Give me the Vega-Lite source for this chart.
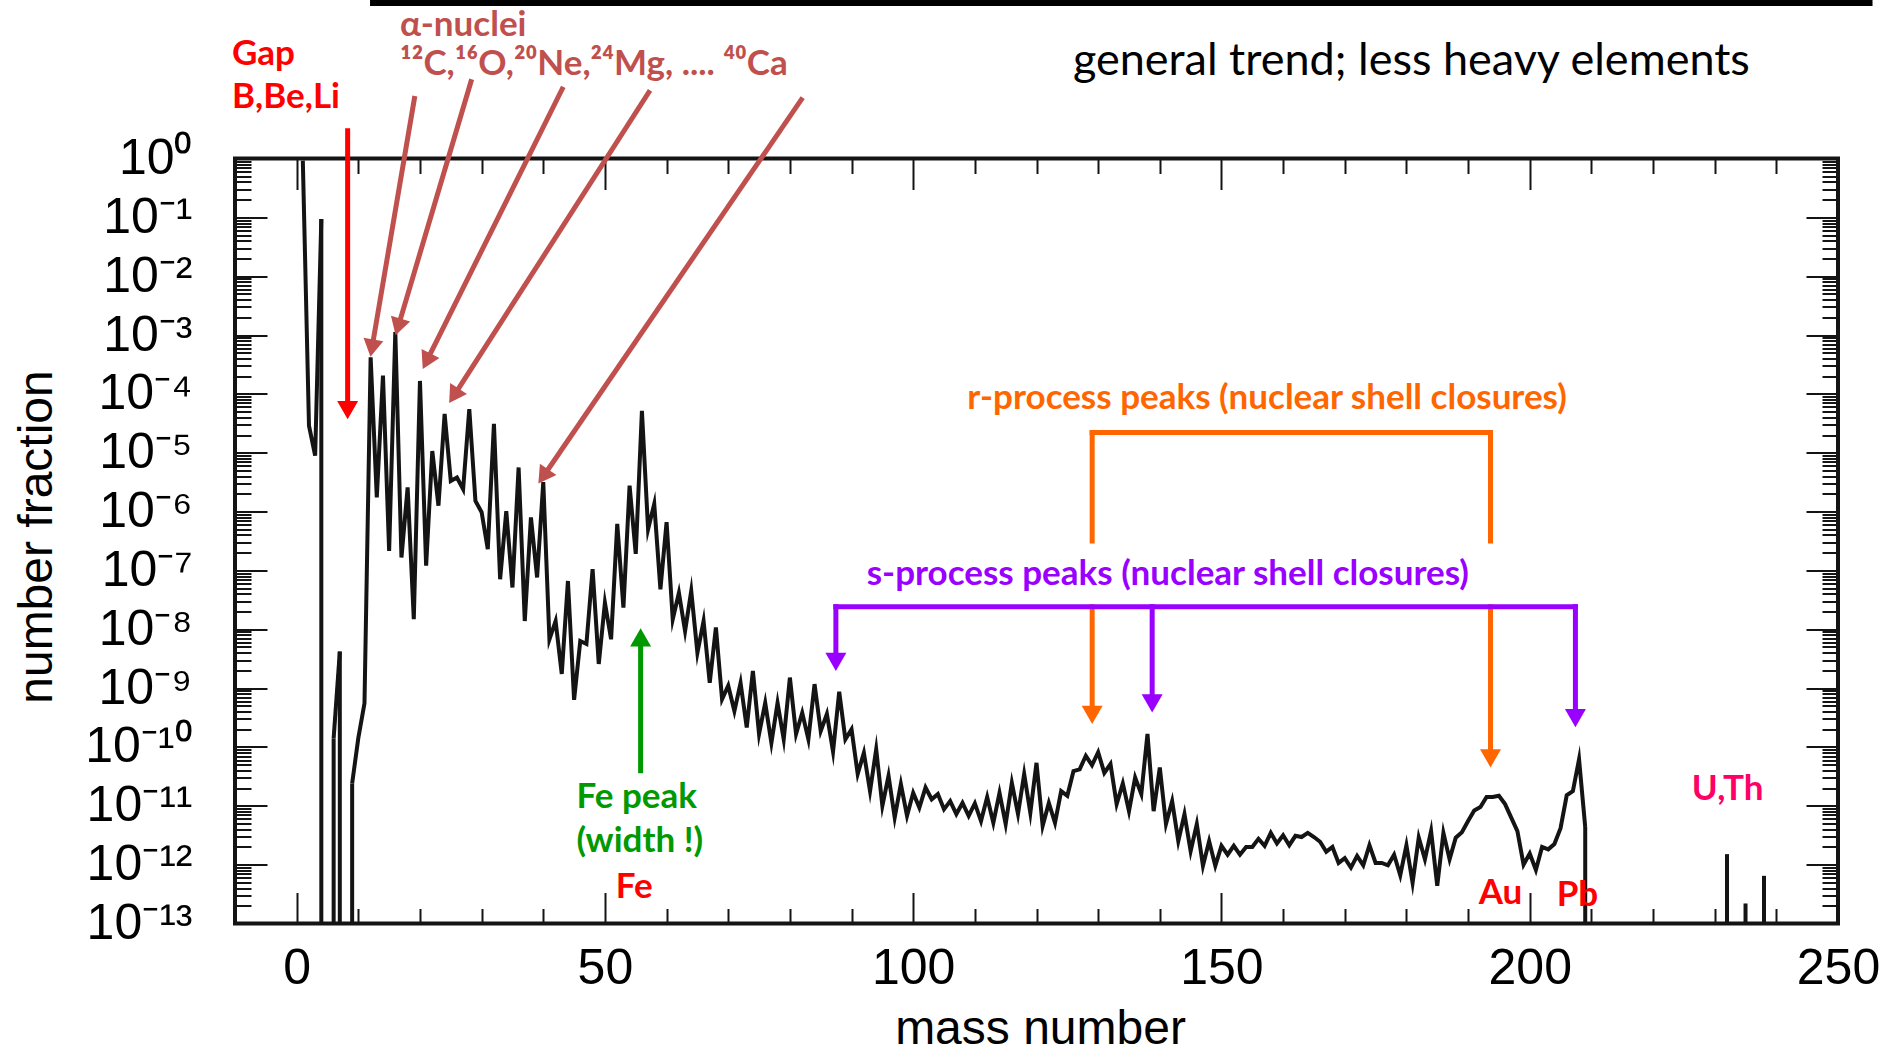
{
"$schema": "https://vega.github.io/schema/vega-lite/v6.json",
"width": 1603, "height": 765,
"autosize": {"type": "none"},
"padding": {"left": 235, "top": 158.5, "right": 46, "bottom": 128.5},
"background": "white",
"config": {"view": {"stroke": "#141414", "strokeWidth": 4}, "axis": {"grid": false, "domain": false, "tickColor": "#141414", "tickWidth": 2, "labelColor": "#000000", "titleColor": "#000000"}},
"datasets": {
"abund": [
{"A":1,"v":0.92,"seg":1},{"A":2,"v":2.88e-5,"seg":1},{"A":3,"v":8.9e-6,"seg":1},{"A":4,"v":0.0933,"seg":1},
{"A":6,"v":1.41e-10,"seg":2},{"A":7,"v":4.17e-9,"seg":2},
{"A":9,"v":2.40e-11,"seg":3},{"A":10,"v":1.41e-10,"seg":3},{"A":11,"v":5.50e-10,"seg":3},{"A":12,"v":4.17e-4,"seg":3},{"A":13,"v":1.74e-6,"seg":3},{"A":14,"v":2.04e-4,"seg":3},{"A":15,"v":2.14e-7,"seg":3},{"A":16,"v":1.12e-3,"seg":3},{"A":17,"v":1.66e-7,"seg":3},{"A":18,"v":2.57e-6,"seg":3},{"A":19,"v":1.48e-8,"seg":3},{"A":20,"v":1.66e-4,"seg":3},
{"A":21,"v":1.20e-7,"seg":3},{"A":22,"v":1.07e-5,"seg":3},{"A":23,"v":1.26e-6,"seg":3},{"A":24,"v":4.57e-5,"seg":3},{"A":25,"v":3.31e-6,"seg":3},{"A":26,"v":3.80e-6,"seg":3},{"A":27,"v":2.40e-6,"seg":3},{"A":28,"v":5.50e-5,"seg":3},{"A":29,"v":1.51e-6,"seg":3},{"A":30,"v":9.77e-7,"seg":3},
{"A":31,"v":2.29e-7,"seg":3},{"A":32,"v":3.09e-5,"seg":3},{"A":33,"v":7.08e-8,"seg":3},{"A":34,"v":1.02e-6,"seg":3},{"A":35,"v":5.13e-8,"seg":3},{"A":36,"v":5.62e-6,"seg":3},{"A":37,"v":1.38e-8,"seg":3},{"A":38,"v":7.94e-7,"seg":3},{"A":39,"v":7.59e-8,"seg":3},{"A":40,"v":3.16e-6,"seg":3},
{"A":41,"v":6.76e-9,"seg":3},{"A":42,"v":1.38e-8,"seg":3},{"A":43,"v":1.74e-9,"seg":3},{"A":44,"v":6.61e-8,"seg":3},{"A":45,"v":6.31e-10,"seg":3},{"A":46,"v":6.31e-9,"seg":3},{"A":47,"v":5.62e-9,"seg":3},{"A":48,"v":1.05e-7,"seg":3},{"A":49,"v":2.57e-9,"seg":3},{"A":50,"v":2.82e-8,"seg":3},
{"A":51,"v":6.76e-9,"seg":3},{"A":52,"v":6.17e-7,"seg":3},{"A":53,"v":2.34e-8,"seg":3},{"A":54,"v":2.75e-6,"seg":3},{"A":55,"v":1.91e-7,"seg":3},{"A":56,"v":5.13e-5,"seg":3},{"A":57,"v":5.01e-7,"seg":3},{"A":58,"v":1.35e-6,"seg":3},{"A":59,"v":4.79e-8,"seg":3},{"A":60,"v":6.61e-7,"seg":3},
{"A":61,"v":1.48e-8,"seg":3},{"A":62,"v":4.17e-8,"seg":3},{"A":63,"v":9.33e-9,"seg":3},{"A":64,"v":4.47e-8,"seg":3},{"A":65,"v":3.98e-9,"seg":3},{"A":66,"v":1.38e-8,"seg":3},{"A":67,"v":1.23e-9,"seg":3},{"A":68,"v":1.07e-8,"seg":3},{"A":69,"v":6.46e-10,"seg":3},{"A":70,"v":1.10e-9,"seg":3},
{"A":71,"v":4.07e-10,"seg":3},{"A":72,"v":1.23e-9,"seg":3},{"A":73,"v":2.14e-10,"seg":3},{"A":74,"v":1.95e-9,"seg":3},{"A":75,"v":1.66e-10,"seg":3},{"A":76,"v":5.62e-10,"seg":3},{"A":77,"v":1.17e-10,"seg":3},{"A":78,"v":5.62e-10,"seg":3},{"A":79,"v":1.35e-10,"seg":3},{"A":80,"v":1.51e-9,"seg":3},
{"A":81,"v":1.66e-10,"seg":3},{"A":82,"v":3.80e-10,"seg":3},{"A":83,"v":1.35e-10,"seg":3},{"A":84,"v":1.17e-9,"seg":3},{"A":85,"v":1.86e-10,"seg":3},{"A":86,"v":3.63e-10,"seg":3},{"A":87,"v":8.32e-11,"seg":3},{"A":88,"v":8.71e-10,"seg":3},{"A":89,"v":1.35e-10,"seg":3},{"A":90,"v":2.00e-10,"seg":3},
{"A":91,"v":3.47e-11,"seg":3},{"A":92,"v":7.94e-11,"seg":3},{"A":93,"v":1.78e-11,"seg":3},{"A":94,"v":9.12e-11,"seg":3},{"A":95,"v":1.00e-11,"seg":3},{"A":96,"v":3.24e-11,"seg":3},{"A":97,"v":6.31e-12,"seg":3},{"A":98,"v":2.34e-11,"seg":3},{"A":99,"v":6.76e-12,"seg":3},{"A":100,"v":1.66e-11,"seg":3},
{"A":101,"v":9.33e-12,"seg":3},{"A":102,"v":2.04e-11,"seg":3},{"A":103,"v":1.29e-11,"seg":3},{"A":104,"v":1.58e-11,"seg":3},{"A":105,"v":8.71e-12,"seg":3},{"A":106,"v":1.20e-11,"seg":3},{"A":107,"v":7.24e-12,"seg":3},{"A":108,"v":1.12e-11,"seg":3},{"A":109,"v":6.76e-12,"seg":3},{"A":110,"v":1.10e-11,"seg":3},
{"A":111,"v":5.50e-12,"seg":3},{"A":112,"v":1.41e-11,"seg":3},{"A":113,"v":5.13e-12,"seg":3},{"A":114,"v":1.66e-11,"seg":3},{"A":115,"v":4.90e-12,"seg":3},{"A":116,"v":2.45e-11,"seg":3},{"A":117,"v":7.24e-12,"seg":3},{"A":118,"v":3.47e-11,"seg":3},{"A":119,"v":7.59e-12,"seg":3},{"A":120,"v":5.37e-11,"seg":3},
{"A":121,"v":4.57e-12,"seg":3},{"A":122,"v":1.12e-11,"seg":3},{"A":123,"v":5.13e-12,"seg":3},{"A":124,"v":1.78e-11,"seg":3},{"A":125,"v":1.48e-11,"seg":3},{"A":126,"v":3.89e-11,"seg":3},{"A":127,"v":4.17e-11,"seg":3},{"A":128,"v":7.08e-11,"seg":3},{"A":129,"v":4.90e-11,"seg":3},{"A":130,"v":8.13e-11,"seg":3},
{"A":131,"v":3.63e-11,"seg":3},{"A":132,"v":5.13e-11,"seg":3},{"A":133,"v":1.07e-11,"seg":3},{"A":134,"v":2.40e-11,"seg":3},{"A":135,"v":8.13e-12,"seg":3},{"A":136,"v":3.02e-11,"seg":3},{"A":137,"v":1.58e-11,"seg":3},{"A":138,"v":1.66e-10,"seg":3},{"A":139,"v":8.13e-12,"seg":3},{"A":140,"v":4.47e-11,"seg":3},
{"A":141,"v":4.90e-12,"seg":3},{"A":142,"v":1.20e-11,"seg":3},{"A":143,"v":2.51e-12,"seg":3},{"A":144,"v":7.24e-12,"seg":3},{"A":145,"v":1.70e-12,"seg":3},{"A":146,"v":4.90e-12,"seg":3},{"A":147,"v":9.55e-13,"seg":3},{"A":148,"v":2.51e-12,"seg":3},{"A":149,"v":9.55e-13,"seg":3},{"A":150,"v":2.09e-12,"seg":3},
{"A":151,"v":1.48e-12,"seg":3},{"A":152,"v":2.09e-12,"seg":3},{"A":153,"v":1.48e-12,"seg":3},{"A":154,"v":2.00e-12,"seg":3},{"A":155,"v":2.00e-12,"seg":3},{"A":156,"v":2.75e-12,"seg":3},{"A":157,"v":2.09e-12,"seg":3},{"A":158,"v":3.47e-12,"seg":3},{"A":159,"v":2.29e-12,"seg":3},{"A":160,"v":3.16e-12,"seg":3},
{"A":161,"v":2.14e-12,"seg":3},{"A":162,"v":3.09e-12,"seg":3},{"A":163,"v":2.95e-12,"seg":3},{"A":164,"v":3.47e-12,"seg":3},{"A":165,"v":2.95e-12,"seg":3},{"A":166,"v":2.45e-12,"seg":3},{"A":167,"v":1.66e-12,"seg":3},{"A":168,"v":2.00e-12,"seg":3},{"A":169,"v":1.07e-12,"seg":3},{"A":170,"v":1.29e-12,"seg":3},
{"A":171,"v":8.91e-13,"seg":3},{"A":172,"v":1.41e-12,"seg":3},{"A":173,"v":9.77e-13,"seg":3},{"A":174,"v":2.14e-12,"seg":3},{"A":175,"v":1.07e-12,"seg":3},{"A":176,"v":1.07e-12,"seg":3},{"A":177,"v":9.77e-13,"seg":3},{"A":178,"v":1.48e-12,"seg":3},{"A":179,"v":6.61e-13,"seg":3},{"A":180,"v":2.14e-12,"seg":3},
{"A":181,"v":4.90e-13,"seg":3},{"A":182,"v":2.88e-12,"seg":3},{"A":183,"v":1.23e-12,"seg":3},{"A":184,"v":3.72e-12,"seg":3},{"A":185,"v":4.37e-13,"seg":3},{"A":186,"v":3.47e-12,"seg":3},{"A":187,"v":1.23e-12,"seg":3},{"A":188,"v":2.88e-12,"seg":3},{"A":189,"v":3.55e-12,"seg":3},{"A":190,"v":5.50e-12,"seg":3},
{"A":191,"v":8.32e-12,"seg":3},{"A":192,"v":9.55e-12,"seg":3},{"A":193,"v":1.41e-11,"seg":3},{"A":194,"v":1.41e-11,"seg":3},{"A":195,"v":1.48e-11,"seg":3},{"A":196,"v":1.07e-11,"seg":3},{"A":197,"v":6.31e-12,"seg":3},{"A":198,"v":3.72e-12,"seg":3},{"A":199,"v":1.00e-12,"seg":3},{"A":200,"v":1.55e-12,"seg":3},
{"A":201,"v":8.13e-13,"seg":3},{"A":202,"v":2.00e-12,"seg":3},{"A":203,"v":1.82e-12,"seg":3},{"A":204,"v":2.24e-12,"seg":3},{"A":205,"v":4.17e-12,"seg":3},{"A":206,"v":1.51e-11,"seg":3},{"A":207,"v":1.78e-11,"seg":3},{"A":208,"v":6.17e-11,"seg":3},{"A":209,"v":4.37e-12,"seg":3}
],
"drops": [
{"A":4,"v":0.0933},{"A":6,"v":1.41e-10},{"A":7,"v":4.17e-9},{"A":9,"v":2.40e-11},{"A":209,"v":4.37e-12},{"A":232,"v":1.51e-12},{"A":235,"v":2.19e-13},{"A":238,"v":6.46e-13}
],
"shafts": [
{"id":"gap","x":8.27,"y":2.97,"x2":8.27,"y2":5.3e-5,"kind":"red"},
{"id":"C12","x":19.10,"y":10.46,"x2":12.21,"y2":6.0e-4,"kind":"alpha"},
{"id":"O16","x":28.27,"y":20.18,"x2":16.45,"y2":1.37e-3,"kind":"alpha"},
{"id":"Ne20","x":43.07,"y":15.17,"x2":21.08,"y2":3.6e-4,"kind":"alpha"},
{"id":"Mg24","x":57.10,"y":13.23,"x2":25.5,"y2":9.3e-5,"kind":"alpha"},
{"id":"Ca40","x":81.85,"y":9.98,"x2":40.0,"y2":3.95e-6,"kind":"alpha"},
{"id":"fe","x":55.79,"y":3.95e-11,"x2":55.79,"y2":7.3e-9,"kind":"green"},
{"id":"r-h","x":129.03,"y":2.21e-5,"x2":193.64,"y2":2.21e-5,"kind":"orange"},
{"id":"r-l1","x":129.03,"y":2.21e-5,"x2":129.03,"y2":3.16e-7,"kind":"orange"},
{"id":"r-r1","x":193.64,"y":2.21e-5,"x2":193.64,"y2":3.16e-7,"kind":"orange"},
{"id":"r-l2","x":129.03,"y":2.42e-8,"x2":129.03,"y2":3.5e-10,"kind":"orange"},
{"id":"r-r2","x":193.64,"y":2.42e-8,"x2":193.64,"y2":6.4e-11,"kind":"orange"},
{"id":"s-h","x":87.46,"y":2.42e-8,"x2":207.41,"y2":2.42e-8,"kind":"purple"},
{"id":"s-l","x":87.46,"y":2.42e-8,"x2":87.46,"y2":2.8e-9,"kind":"purple"},
{"id":"s-m","x":138.76,"y":2.42e-8,"x2":138.76,"y2":5.5e-10,"kind":"purple"},
{"id":"s-r","x":207.41,"y":2.42e-8,"x2":207.41,"y2":3.1e-10,"kind":"purple"}
],
"heads": [
{"id":"gap","x":8.27,"y":5.3e-5,"kind":"red"},
{"id":"r1","x":129.03,"y":3.5e-10,"kind":"orange"},
{"id":"r2","x":193.64,"y":6.4e-11,"kind":"orange"},
{"id":"s1","x":87.46,"y":2.8e-9,"kind":"purple"},
{"id":"s2","x":138.76,"y":5.5e-10,"kind":"purple"},
{"id":"s3","x":207.41,"y":3.1e-10,"kind":"purple"},
{"id":"fe","x":55.79,"y":7.3e-9,"kind":"green"},
{"id":"C12","x":12.21,"y":6.0e-4,"kind":"alpha"},
{"id":"O16","x":16.45,"y":1.37e-3,"kind":"alpha"},
{"id":"Ne20","x":21.08,"y":3.6e-4,"kind":"alpha"},
{"id":"Mg24","x":25.5,"y":9.3e-5,"kind":"alpha"},
{"id":"Ca40","x":40.0,"y":3.95e-6,"kind":"alpha"}
],
"bar": [{"x":11.9,"x2":255.6,"y":439}],
"notesLeft": [
{"text":"α-nuclei","x":16.77,"y":185.5,"kind":"alpha"},
{"text":"¹²C,¹⁶O,²⁰Ne,²⁴Mg, .... ⁴⁰Ca","x":16.77,"y":40.5,"kind":"alpha"},
{"text":"Gap","x":-10.49,"y":60.0,"kind":"red"},
{"text":"B,Be,Li","x":-10.49,"y":11.2,"kind":"red"},
{"text":"Fe peak","x":45.4,"y":1.41e-11,"kind":"green"},
{"text":"(width !)","x":45.4,"y":2.53e-12,"kind":"green"}
],
"notesCenter": [
{"text":"r-process peaks (nuclear shell closures)","x":157.4,"y":8.51e-5,"kind":"orange"},
{"text":"s-process peaks (nuclear shell closures)","x":141.3,"y":8.7e-8,"kind":"purple"},
{"text":"Fe","x":54.77,"y":4.23e-13,"kind":"red"},
{"text":"Au","x":195.26,"y":3.34e-13,"kind":"red"},
{"text":"Pb","x":207.73,"y":3.05e-13,"kind":"red"},
{"text":"U,Th","x":232.1,"y":1.9e-11,"kind":"pink"}
],
"trend": [{"text":"general trend; less heavy elements","x":125.9,"y":45.4}]
},
"resolve": {"axis": {"x": "independent", "y": "independent"}},
"layer": [
{"data": {"name": "abund"},
 "mark": {"type": "line", "color": "#141414", "strokeWidth": 4, "strokeJoin": "miter", "strokeMiterLimit": 8},
 "encoding": {
  "x": {"field": "A", "type": "quantitative", "scale": {"domain": [-10, 250], "nice": false, "zero": false},
   "axis": {"orient": "bottom", "values": [0,50,100,150,200,250], "ticks": false, "domain": false, "grid": false, "labelFont": "Liberation Sans", "labelFontSize": 50, "labelPadding": 59.5, "labelBaseline": "alphabetic", "labelFlush": false, "labelOverlap": false, "title": "mass number", "titleFont": "Liberation Sans", "titleFontSize": 48, "titleFontWeight": "normal", "titleBaseline": "alphabetic", "titleY": 119.5, "titleX": 805}},
  "y": {"field": "v", "type": "quantitative", "scale": {"type": "log", "domain": [1e-13, 1], "nice": false},
   "axis": {"orient": "left", "values": [1e-13,1e-12,1e-11,1e-10,1e-9,1e-8,1e-7,1e-6,1e-5,1e-4,1e-3,1e-2,1e-1,1], "ticks": false, "domain": false, "grid": false, "labelFont": "Liberation Sans", "labelFontSize": 50, "labelPadding": 43, "labelBaseline": "middle", "labelAlign": "right", "labelOverlap": false, "labelFlush": false,
    "labelExpr": "'10' + ['⁰','⁻¹','⁻²','⁻³','⁻⁴','⁻⁵','⁻⁶','⁻⁷','⁻⁸','⁻⁹','⁻¹⁰','⁻¹¹','⁻¹²','⁻¹³'][round(-log(datum.value)/LN10)]",
    "title": "number fraction", "titleFont": "Liberation Sans", "titleFontSize": 48, "titleFontWeight": "normal", "titleAngle": -90, "titleBaseline": "alphabetic", "titleAlign": "center", "titleX": -184, "titleY": 378}},
  "detail": {"field": "seg", "type": "nominal"}
 }},
{"data": {"name": "drops"},
 "mark": {"type": "rule", "color": "#141414", "strokeWidth": 4},
 "encoding": {
  "x": {"field": "A", "type": "quantitative", "scale": {"domain": [-10, 250], "nice": false, "zero": false},
   "axis": {"orient": "bottom", "values": [0,50,100,150,200,250], "ticks": true, "tickSize": -31, "labels": false, "domain": false, "grid": false, "title": null}},
  "y": {"field": "v", "type": "quantitative", "scale": {"type": "log", "domain": [1e-13, 1], "nice": false},
   "axis": {"orient": "left", "values": [1e-13,1e-12,1e-11,1e-10,1e-9,1e-8,1e-7,1e-6,1e-5,1e-4,1e-3,1e-2,1e-1,1], "ticks": true, "tickSize": -32, "labels": false, "domain": false, "grid": false, "title": null}},
  "y2": {"datum": 1e-13}
 }},
{"data": {"name": "shafts"},
 "mark": {"type": "rule", "strokeWidth": 5, "strokeCap": "square"},
 "encoding": {
  "x": {"field": "x", "type": "quantitative", "scale": {"domain": [-10, 250], "nice": false, "zero": false},
   "axis": {"orient": "bottom", "values": [10,20,30,40,60,70,80,90,110,120,130,140,160,170,180,190,210,220,230,240], "ticks": true, "tickSize": -15, "labels": false, "domain": false, "grid": false, "title": null}},
  "y": {"field": "y", "type": "quantitative", "scale": {"type": "log", "domain": [1e-13, 1], "nice": false},
   "axis": {"orient": "left", "values": [2e-13,3e-13,4e-13,5e-13,6e-13,7e-13,8e-13,9e-13,2e-12,3e-12,4e-12,5e-12,6e-12,7e-12,8e-12,9e-12,2e-11,3e-11,4e-11,5e-11,6e-11,7e-11,8e-11,9e-11,2e-10,3e-10,4e-10,5e-10,6e-10,7e-10,8e-10,9e-10,2e-9,3e-9,4e-9,5e-9,6e-9,7e-9,8e-9,9e-9,2e-8,3e-8,4e-8,5e-8,6e-8,7e-8,8e-8,9e-8,2e-7,3e-7,4e-7,5e-7,6e-7,7e-7,8e-7,9e-7,2e-6,3e-6,4e-6,5e-6,6e-6,7e-6,8e-6,9e-6,2e-5,3e-5,4e-5,5e-5,6e-5,7e-5,8e-5,9e-5,2e-4,3e-4,4e-4,5e-4,6e-4,7e-4,8e-4,9e-4,2e-3,3e-3,4e-3,5e-3,6e-3,7e-3,8e-3,9e-3,2e-2,3e-2,4e-2,5e-2,6e-2,7e-2,8e-2,9e-2,2e-1,3e-1,4e-1,5e-1,6e-1,7e-1,8e-1,9e-1], "ticks": true, "tickSize": -16, "labels": false, "domain": false, "grid": false, "title": null}},
  "x2": {"field": "x2"},
  "y2": {"field": "y2"},
  "color": {"field": "kind", "type": "nominal", "scale": {"domain": ["alpha","red","orange","purple","green","pink","black"], "range": ["#C0504D","#FF0000","#FF6600","#9900FF","#009900","#FF0066","#000000"]}, "legend": null}
 }},
{"data": {"name": "heads"},
 "transform": [{"filter": "indexof(['gap','r1','r2','s1','s2','s3'], datum.id) >= 0"}],
 "mark": {"type": "point", "shape": "triangle-down", "filled": true, "size": 440, "opacity": 1, "strokeWidth": 0},
 "encoding": {
  "x": {"field": "x", "type": "quantitative", "scale": {"domain": [-10, 250], "nice": false, "zero": false},
   "axis": {"orient": "top", "values": [0,50,100,150,200,250], "ticks": true, "tickSize": -31, "labels": false, "domain": false, "grid": false, "title": null}},
  "y": {"field": "y", "type": "quantitative", "scale": {"type": "log", "domain": [1e-13, 1], "nice": false},
   "axis": {"orient": "right", "values": [1e-13,1e-12,1e-11,1e-10,1e-9,1e-8,1e-7,1e-6,1e-5,1e-4,1e-3,1e-2,1e-1,1], "ticks": true, "tickSize": -32, "labels": false, "domain": false, "grid": false, "title": null}},
  "color": {"field": "kind", "type": "nominal", "legend": null}
 }},
{"data": {"name": "heads"},
 "transform": [{"filter": "datum.id == 'fe'"}],
 "mark": {"type": "point", "shape": "triangle-up", "filled": true, "size": 440, "opacity": 1, "strokeWidth": 0},
 "encoding": {
  "x": {"field": "x", "type": "quantitative", "scale": {"domain": [-10, 250], "nice": false, "zero": false},
   "axis": {"orient": "top", "values": [10,20,30,40,60,70,80,90,110,120,130,140,160,170,180,190,210,220,230,240], "ticks": true, "tickSize": -15, "labels": false, "domain": false, "grid": false, "title": null}},
  "y": {"field": "y", "type": "quantitative", "scale": {"type": "log", "domain": [1e-13, 1], "nice": false},
   "axis": {"orient": "right", "values": [2e-13,3e-13,4e-13,5e-13,6e-13,7e-13,8e-13,9e-13,2e-12,3e-12,4e-12,5e-12,6e-12,7e-12,8e-12,9e-12,2e-11,3e-11,4e-11,5e-11,6e-11,7e-11,8e-11,9e-11,2e-10,3e-10,4e-10,5e-10,6e-10,7e-10,8e-10,9e-10,2e-9,3e-9,4e-9,5e-9,6e-9,7e-9,8e-9,9e-9,2e-8,3e-8,4e-8,5e-8,6e-8,7e-8,8e-8,9e-8,2e-7,3e-7,4e-7,5e-7,6e-7,7e-7,8e-7,9e-7,2e-6,3e-6,4e-6,5e-6,6e-6,7e-6,8e-6,9e-6,2e-5,3e-5,4e-5,5e-5,6e-5,7e-5,8e-5,9e-5,2e-4,3e-4,4e-4,5e-4,6e-4,7e-4,8e-4,9e-4,2e-3,3e-3,4e-3,5e-3,6e-3,7e-3,8e-3,9e-3,2e-2,3e-2,4e-2,5e-2,6e-2,7e-2,8e-2,9e-2,2e-1,3e-1,4e-1,5e-1,6e-1,7e-1,8e-1,9e-1], "ticks": true, "tickSize": -16, "labels": false, "domain": false, "grid": false, "title": null}},
  "color": {"field": "kind", "type": "nominal", "legend": null}
 }},
{"data": {"name": "heads"}, "transform": [{"filter": "datum.id == 'C12'"}],
 "mark": {"type": "point", "shape": "triangle-down", "filled": true, "size": 400, "opacity": 1, "strokeWidth": 0, "angle": 9.7, "color": "#C0504D"},
 "encoding": {"x": {"field": "x", "type": "quantitative", "axis": null}, "y": {"field": "y", "type": "quantitative", "axis": null}}},
{"data": {"name": "heads"}, "transform": [{"filter": "datum.id == 'O16'"}],
 "mark": {"type": "point", "shape": "triangle-down", "filled": true, "size": 400, "opacity": 1, "strokeWidth": 0, "angle": 16.6, "color": "#C0504D"},
 "encoding": {"x": {"field": "x", "type": "quantitative", "axis": null}, "y": {"field": "y", "type": "quantitative", "axis": null}}},
{"data": {"name": "heads"}, "transform": [{"filter": "datum.id == 'Ne20'"}],
 "mark": {"type": "point", "shape": "triangle-down", "filled": true, "size": 400, "opacity": 1, "strokeWidth": 0, "angle": 26.6, "color": "#C0504D"},
 "encoding": {"x": {"field": "x", "type": "quantitative", "axis": null}, "y": {"field": "y", "type": "quantitative", "axis": null}}},
{"data": {"name": "heads"}, "transform": [{"filter": "datum.id == 'Mg24'"}],
 "mark": {"type": "point", "shape": "triangle-down", "filled": true, "size": 400, "opacity": 1, "strokeWidth": 0, "angle": 32.85, "color": "#C0504D"},
 "encoding": {"x": {"field": "x", "type": "quantitative", "axis": null}, "y": {"field": "y", "type": "quantitative", "axis": null}}},
{"data": {"name": "heads"}, "transform": [{"filter": "datum.id == 'Ca40'"}],
 "mark": {"type": "point", "shape": "triangle-down", "filled": true, "size": 400, "opacity": 1, "strokeWidth": 0, "angle": 34.5, "color": "#C0504D"},
 "encoding": {"x": {"field": "x", "type": "quantitative", "axis": null}, "y": {"field": "y", "type": "quantitative", "axis": null}}},
{"data": {"name": "bar"},
 "mark": {"type": "rule", "color": "#000000", "strokeWidth": 6},
 "encoding": {"x": {"field": "x", "type": "quantitative", "axis": null}, "x2": {"field": "x2"}, "y": {"field": "y", "type": "quantitative", "axis": null}}},
{"data": {"name": "notesLeft"},
 "mark": {"type": "text", "align": "left", "baseline": "middle", "font": "Lato", "fontSize": 35, "fontWeight": "bold"},
 "encoding": {"x": {"field": "x", "type": "quantitative", "axis": null}, "y": {"field": "y", "type": "quantitative", "axis": null}, "text": {"field": "text"}, "color": {"field": "kind", "type": "nominal", "legend": null}}},
{"data": {"name": "notesCenter"},
 "mark": {"type": "text", "align": "center", "baseline": "middle", "font": "Lato", "fontSize": 35, "fontWeight": "bold"},
 "encoding": {"x": {"field": "x", "type": "quantitative", "axis": null}, "y": {"field": "y", "type": "quantitative", "axis": null}, "text": {"field": "text"}, "color": {"field": "kind", "type": "nominal", "legend": null}}},
{"data": {"name": "trend"},
 "mark": {"type": "text", "align": "left", "baseline": "middle", "font": "Lato", "fontSize": 45, "fontWeight": "normal", "color": "#000000"},
 "encoding": {"x": {"field": "x", "type": "quantitative", "axis": null}, "y": {"field": "y", "type": "quantitative", "axis": null}, "text": {"field": "text"}}}
]
}
